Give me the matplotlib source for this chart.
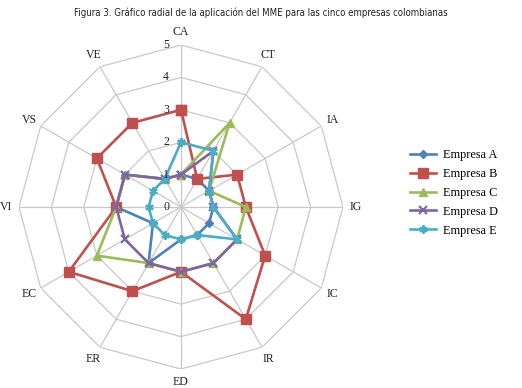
import numpy as np
import matplotlib
matplotlib.use("Agg")
import matplotlib.pyplot as plt

# categories clockwise from the top
categories = ['CA', 'CT', 'IA', 'IG', 'IC', 'IR', 'ED', 'ER', 'EC', 'VI', 'VS', 'VE']
empresa_a = [1, 1, 1, 1, 1, 1, 1, 2, 1, 2, 2, 1]
empresa_b = [3, 1, 2, 2, 3, 4, 2, 3, 4, 2, 3, 3]
empresa_c = [1, 3, 1, 2, 2, 2, 2, 2, 3, 2, 2, 1]
empresa_d = [1, 2, 1, 1, 2, 2, 2, 2, 2, 2, 2, 1]
empresa_e = [2, 2, 1, 1, 2, 1, 1, 1, 1, 1, 1, 1]
series_names = ['Empresa A', 'Empresa B', 'Empresa C', 'Empresa D', 'Empresa E']
levels = [0, 1, 2, 3, 4, 5]

title = 'Figura 3. Gráfico radial de la aplicación del MME para las cinco empresas colombianas'

colors = ['#4F81BD', '#C0504D', '#9BBB59', '#8064A2', '#4BACC6']
markers = ['D', 's', '^', 'x', (6, 2, 0)]
msizes = [4.5, 6.5, 6, 5.5, 6]

serif = ['Liberation Serif', 'DejaVu Serif']

fig = plt.figure(figsize=(5.22, 3.88), dpi=100)
ax = fig.add_axes([0.0364, 0.049, 0.6207, 0.835], projection='polar')
ax.set_theta_zero_location('N')
ax.set_theta_direction(-1)

n = len(categories)
theta = np.linspace(0, 2 * np.pi, n, endpoint=False)
theta_closed = np.append(theta, theta[0])

# polygon grid and spokes
grid_col = '#C8C8C8'
for lv in levels[1:]:
    ax.plot(theta_closed, [lv] * (n + 1), color=grid_col, lw=0.9, zorder=1)
for t in theta:
    ax.plot([t, t], [0, levels[-1]], color=grid_col, lw=0.9, zorder=1)

ax.grid(False)
ax.spines['polar'].set_visible(False)
ax.set_xticks([])
ax.set_yticks([])
ax.set_ylim(0, levels[-1])
ax.patch.set_alpha(0)

data = [empresa_a, empresa_b, empresa_c, empresa_d, empresa_e]
for name, vals, c, m, ms in zip(series_names, data, colors, markers, msizes):
    v = np.append(vals, vals[0])
    mew = 1.5 if m in ('x', (6, 2, 0)) else 1
    ax.plot(theta_closed, v, color=c, lw=1.9, marker=m, ms=ms, mew=mew,
            mec=c, mfc=c, label=name, zorder=3, clip_on=False)

# radial value labels left of the CA axis
for lv in levels:
    ax.annotate(str(lv), xy=(0, lv), xytext=(-15, 0), textcoords='offset pixels',
                ha='center', va='center', fontsize=8.5, family=serif, color='#222222')

# category labels
for t, lab in zip(theta, categories):
    ax.text(t, 5.4, lab, ha='center', va='center', fontsize=8.5,
            family=serif, color='#222222')

fig.text(0.5, 0.968, title, ha='center', va='center', fontsize=6.9,
         family='DejaVu Sans', fontstretch='condensed', color='#222222')

leg = fig.legend(loc='center left', bbox_to_anchor=(0.765, 0.503), frameon=False,
                 prop={'family': serif, 'size': 8.8}, handlelength=2.1,
                 labelspacing=0.56, handletextpad=0.55)

fig.savefig('out.png', dpi=100)
